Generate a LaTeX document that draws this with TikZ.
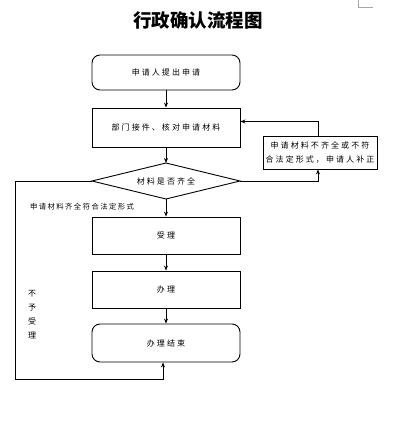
\documentclass[tikz,border=0pt]{standalone}
\usepackage{fontspec}
\setmainfont{Noto Sans CJK SC}
\newfontfamily\cjk{Noto Sans CJK SC}
\newfontfamily\cjksp[LetterSpace=26]{Noto Sans CJK SC}
\newfontfamily\cjklab[LetterSpace=20]{Noto Sans CJK SC}
\usetikzlibrary{arrows.meta}
\begin{document}
\begin{tikzpicture}[x=1pt,y=-1pt,
  every node/.style={inner sep=0pt},
  boxtxt/.style={font=\cjksp\fontsize{8}{10}\selectfont},
  flowbox/.style={draw, line width=0.9pt, minimum width=148pt, boxtxt},
  roundbox/.style={flowbox, rounded corners=8pt},
  link/.style={line width=0.9pt},
  arr/.style={link, -{Stealth[length=5pt,width=4pt]}}]
\useasboundingbox (0,0) rectangle (407,425);
% corner mark
\draw[gray!70, line width=0.8pt] (358,0) -- (358,7) -- (373,7);
% title
\node (title) at (198,20) {\cjk\bfseries\fontsize{18.5}{20}\selectfont 行政确认流程图};
% boxes
\node[roundbox, minimum height=35pt] (b1) at (166,72.5) {申请人提出申请};
\node[flowbox, minimum height=39pt] (b2) at (166,127.5) {部门接件、核对申请材料};
\node[boxtxt] (dia) at (166,181) {材料是否齐全};
\coordinate (dT) at (166,163);
\coordinate (dB) at (166,199);
\coordinate (dL) at (92,181);
\coordinate (dR) at (240,181);
\draw[link] (dL) -- (dT) -- (dR) -- (dB) -- cycle;
\node[draw, line width=0.9pt, minimum width=114pt, minimum height=33pt, align=center,
  font=\cjksp\fontsize{8}{14}\selectfont] (b3) at (320,152.5) {申请材料不齐全或不符\\合法定形式，申请人补正};
\node[flowbox, minimum height=37pt] (b4) at (166,235.5) {受理};
\node[flowbox, minimum height=37pt] (b5) at (166,289.5) {办理};
\node[roundbox, minimum height=38pt] (b6) at (166,343) {办理结束};
% labels
\node[anchor=west, font=\cjklab\fontsize{7.3}{9}\selectfont] (lab1) at (30,207) {申请材料齐全符合法定形式};
\node[align=center, font=\cjk\fontsize{8}{14}\selectfont] (lab2) at (32,315) {不\\予\\受\\理};
% connectors
\draw[arr] (b1.south) -- (b2.north);
\draw[arr] (b2.south) -- (dT);
\draw[arr] (dB) -- (b4.north);
\draw[arr] (b4.south) -- (b5.north);
\draw[arr] (b5.south) -- (b6.north);
\draw[arr] (dR) -| ([xshift=-2pt]b3.south);
\draw[arr] ([xshift=-2pt]b3.north) |- ([yshift=6pt]b2.east);
\coordinate (c1) at (15,181);
\coordinate (c2) at (163,379);
\draw[arr] (dL) -- (c1) -- (c1 |- c2) -- (c2) -- ([xshift=-3pt]b6.south);
\end{tikzpicture}
\end{document}
